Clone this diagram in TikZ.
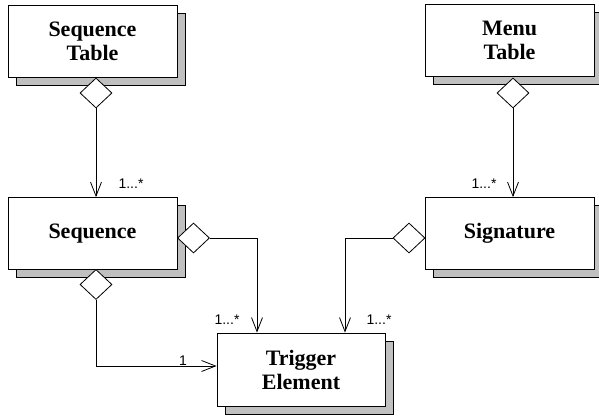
\documentclass[tikz,border=0pt]{standalone}
\usepackage{fontspec}
\setmainfont{Liberation Serif}
\newfontfamily\labelfont{Liberation Sans}
\usetikzlibrary{shapes.geometric,shadows,arrows.meta}
\definecolor{shadowgray}{RGB}{192,192,192}
\begin{document}
\begin{tikzpicture}[x=1pt,y=-1pt,
  cls/.style={draw=black, line width=0.8pt, fill=white, rectangle,
    minimum width=169pt, minimum height=72pt, inner sep=0pt, align=center,
    font=\bfseries\fontsize{22}{24}\selectfont,
    copy shadow={shadow xshift=8pt, shadow yshift=-8pt, fill=shadowgray, draw=black, line width=0.8pt}},
  agg/.style={draw=black, line width=0.8pt, fill=white, diamond, aspect=1.07,
    minimum width=32pt, minimum height=30pt, inner sep=0pt},
  conn/.style={draw=black, line width=0.8pt, -{Straight Barb[length=14pt,width=11pt]}},
  mult/.style={font=\labelfont\fontsize{14}{15}\selectfont, inner sep=0pt}]
\useasboundingbox (0,0) rectangle (599,415);
\node[cls] (seqtab) at (92.5,41) {Sequence\\Table};
\node[cls] (menutab) at (509.5,40.5) {Menu\\Table};
\node[cls] (seq) at (92.5,233.5) {Sequence};
\node[cls] (sig) at (509.5,233.5) {Signature};
\node[cls, minimum width=168pt, minimum height=73pt] (trig) at (301,369.5) {Trigger\\Element};
\node[agg] (d1) at (96,93) {};
\node[agg] (d2) at (513,93) {};
\node[agg] (d3) at (193.5,238) {};
\node[agg] (d4) at (409,238) {};
\node[agg] (d5) at (96,284.5) {};
\draw[conn] (d1.south) -- (d1.south |- seq.north);
\draw[conn] (d2.south) -- (d2.south |- sig.north);
\draw[conn] (d3.east) -| ([xshift=-44pt]trig.north);
\draw[conn] (d4.west) -| ([xshift=44pt]trig.north);
\draw[conn] (d5.south) |- ([yshift=3.5pt]trig.west);
\node[mult] (m1) at (131,184) {1...*};
\node[mult] (m2) at (484,184) {1...*};
\node[mult] (m3) at (227,320) {1...*};
\node[mult] (m4) at (379,320) {1...*};
\node[mult] (m5) at (183,361) {1};
\end{tikzpicture}
\end{document}
